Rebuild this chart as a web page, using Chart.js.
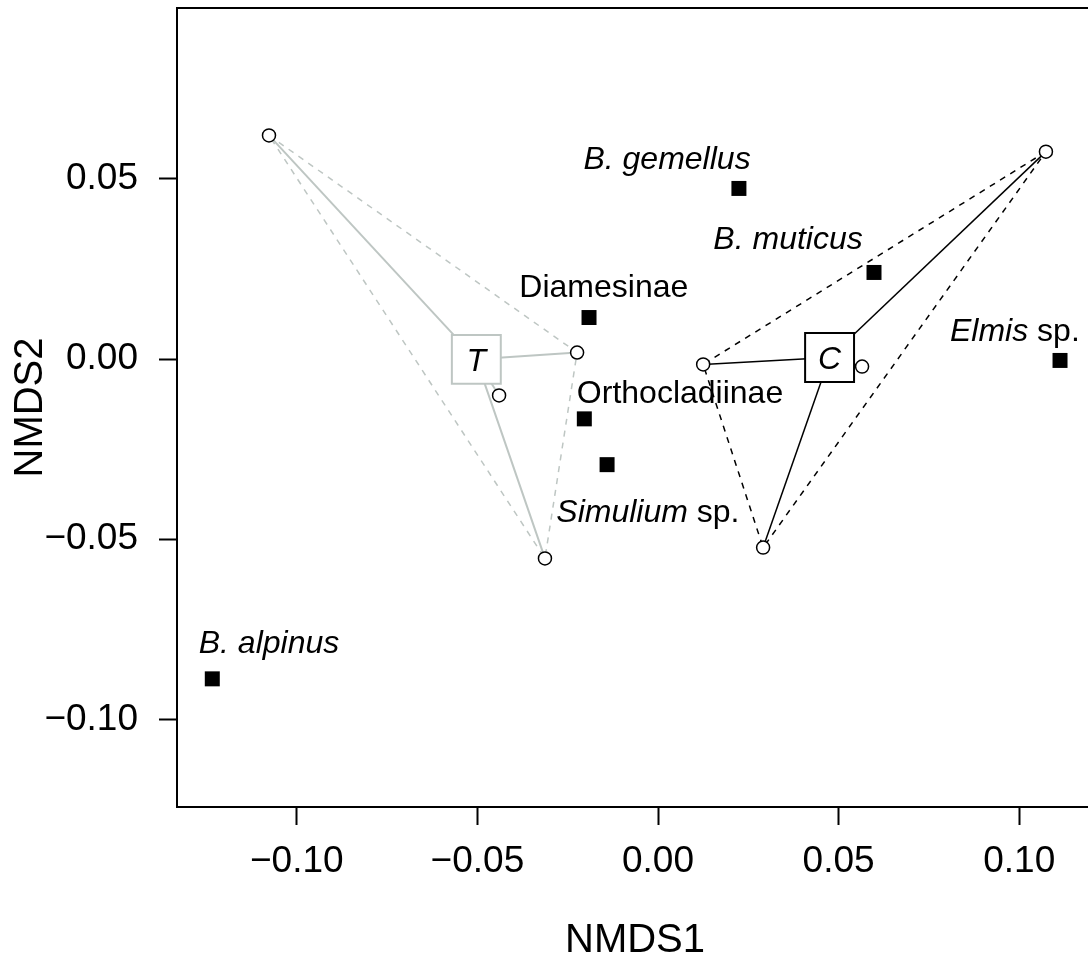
<!DOCTYPE html>
<html><head><meta charset="utf-8">
<script src="https://cdn.jsdelivr.net/npm/chart.js@4.4.1/dist/chart.umd.min.js"></script>
<style>html,body{margin:0;padding:0;background:#fff;overflow:hidden;}#wrap{width:1100px;height:961px;}</style>
</head><body><div id="wrap"><canvas id="c" width="1100" height="961"></canvas></div>
<script>
const FONT = '"Liberation Sans", Arial, Helvetica, sans-serif';

// Species scores (filled squares)
const speciesNames = ['B. gemellus', 'B. muticus', 'Diamesinae', 'Orthocladiinae', 'Simulium sp.', 'Elmis sp.', 'B. alpinus'];
const speciesX = [0.0224, 0.0598, -0.0191, -0.0204, -0.0141, 0.1113, -0.1234];
const speciesY = [0.0473, 0.0240, 0.0115, -0.0166, -0.0293, -0.0004, -0.0887];
// label anchors (baseline centre, data units)
const speciesLabelX = [0.0025, 0.0360, -0.0150, 0.0061, -0.0028, 0.0988, -0.1077];
const speciesLabelY = [0.0528, 0.0306, 0.0171, -0.0121, -0.0451, 0.0049, -0.0814];
// italic part of each label (rest is upright)
const speciesItalicPart = ['B. gemellus', 'B. muticus', '', '', 'Simulium', 'Elmis', 'B. alpinus'];

// Site scores, treatment T (grey) and control C (black)
const siteTX = [-0.1077, -0.0224, -0.0440, -0.0313];
const siteTY = [0.0620, 0.0018, -0.0101, -0.0553];
const siteCX = [0.1074, 0.0125, 0.0565, 0.0291];
const siteCY = [0.0575, -0.0015, -0.0021, -0.0523];
const hullT = [0, 1, 3, 0];
const hullC = [0, 1, 3, 0];
const centroidNames = ['T', 'C'];
const centroidX = [-0.0503, 0.0475];
const centroidY = [-0.0001, 0.0004];

const xTicks = [-0.10, -0.05, 0.00, 0.05, 0.10];
const xTickLabels = ['\u22120.10', '\u22120.05', '0.00', '0.05', '0.10'];
const yTicks = [-0.10, -0.05, 0.00, 0.05];
const yTickLabels = ['\u22120.10', '\u22120.05', '0.00', '0.05'];
const xTitle = 'NMDS1';
const yTitle = 'NMDS2';

const GREY = 'rgb(190,198,195)';
const BLACK = '#000';

const pts = (xs, ys, idx) => (idx || xs.map((_, i) => i)).map(i => ({x: xs[i], y: ys[i]}));

const datasets = [];
datasets.push({data: pts(speciesX, speciesY), pointStyle: 'rect', pointRadius: 10.6, backgroundColor: BLACK, borderWidth: 0, order: 0});
datasets.push({data: pts(centroidX, centroidY), pointStyle: 'rect', pointRadius: 34.6, backgroundColor: '#fff', borderColor: [GREY, BLACK], borderWidth: 2, order: 1});
datasets.push({data: pts(siteTX, siteTY).concat(pts(siteCX, siteCY)), pointStyle: 'circle', pointRadius: 6.5, backgroundColor: '#fff', borderColor: BLACK, borderWidth: 1.5, order: 2});
siteTX.forEach((_, i) => datasets.push({data: [{x: centroidX[0], y: centroidY[0]}, {x: siteTX[i], y: siteTY[i]}], showLine: true, pointRadius: 0, borderColor: GREY, borderWidth: 2, order: 3}));
siteCX.forEach((_, i) => datasets.push({data: [{x: centroidX[1], y: centroidY[1]}, {x: siteCX[i], y: siteCY[i]}], showLine: true, pointRadius: 0, borderColor: BLACK, borderWidth: 1.5, order: 3}));
datasets.push({data: pts(siteTX, siteTY, hullT), showLine: true, pointRadius: 0, borderColor: GREY, borderWidth: 1.5, borderDash: [6, 6], order: 4});
datasets.push({data: pts(siteCX, siteCY, hullC), showLine: true, pointRadius: 0, borderColor: BLACK, borderWidth: 1.5, borderDash: [6, 6], order: 4});

const labelPlugin = {
  id: 'labels',
  afterDatasetsDraw(chart) {
    const {ctx, scales: {x, y}} = chart;
    ctx.save();
    ctx.fillStyle = BLACK;
    ctx.textBaseline = 'alphabetic';
    ctx.textAlign = 'left';
    const fs = 32;
    speciesNames.forEach((name, i) => {
      const it = speciesItalicPart[i];
      const parts = [];
      if (it) parts.push([it, true]);
      const rest = name.slice(it.length);
      if (rest) parts.push([rest, false]);
      let total = 0;
      parts.forEach(p => { ctx.font = (p[1] ? 'italic ' : '') + fs + 'px ' + FONT; p.push(ctx.measureText(p[0]).width); total += p[2]; });
      let px = x.getPixelForValue(speciesLabelX[i]) - total / 2;
      const py = y.getPixelForValue(speciesLabelY[i]);
      parts.forEach(p => { ctx.font = (p[1] ? 'italic ' : '') + fs + 'px ' + FONT; ctx.fillText(p[0], px, py); px += p[2]; });
    });
    ctx.textAlign = 'center';
    ctx.font = 'italic 32px ' + FONT;
    centroidNames.forEach((n, i) => {
      ctx.fillText(n, x.getPixelForValue(centroidX[i]), y.getPixelForValue(centroidY[i]) + 11.5);
    });
    ctx.restore();
  },
  afterDraw(chart) {
    const {ctx, chartArea: a} = chart;
    ctx.save();
    ctx.strokeStyle = BLACK;
    ctx.lineWidth = 2;
    ctx.strokeRect(a.left, a.top, a.right - a.left, a.bottom - a.top);
    ctx.restore();
  }
};

function zeroPad(s) { s.paddingLeft = 0; s.paddingRight = 0; s.paddingTop = 0; s.paddingBottom = 0; }

new Chart(document.getElementById('c'), {
  type: 'scatter',
  data: {datasets},
  plugins: [labelPlugin],
  options: {
    responsive: false,
    animation: false,
    events: [],
    layout: {autoPadding: false, padding: {left: 0, right: 7, top: 8, bottom: 0}},
    plugins: {legend: {display: false}, tooltip: {enabled: false}},
    scales: {
      x: {
        type: 'linear', min: -0.13317, max: 0.12043,
        afterBuildTicks(s) { s.ticks = xTicks.map(v => ({value: v})); },
        afterFit(s) { s.height = 154; zeroPad(s); },
        grid: {drawOnChartArea: false, drawTicks: true, tickLength: 18, tickWidth: 2, tickColor: BLACK},
        border: {display: false},
        ticks: {color: BLACK, font: {family: FONT, size: 37}, padding: 15, maxRotation: 0, autoSkip: false,
          callback: (v, i) => xTickLabels[i]},
        title: {display: true, text: xTitle, color: BLACK, font: {family: FONT, size: 40}, padding: {top: 0, bottom: -4}}
      },
      y: {
        type: 'linear', min: -0.12424, max: 0.09734,
        afterBuildTicks(s) { s.ticks = yTicks.map(v => ({value: v})); },
        afterFit(s) { s.width = 177; zeroPad(s); },
        grid: {drawOnChartArea: false, drawTicks: true, tickLength: 18, tickWidth: 2, tickColor: BLACK},
        border: {display: false},
        ticks: {color: BLACK, font: {family: FONT, size: 37}, padding: 21, autoSkip: false,
          callback: (v, i) => yTickLabels[i]},
        title: {display: true, text: yTitle, color: BLACK, font: {family: FONT, size: 40}, padding: {top: 7, bottom: 0}}
      }
    }
  }
});
</script>
</body></html>
